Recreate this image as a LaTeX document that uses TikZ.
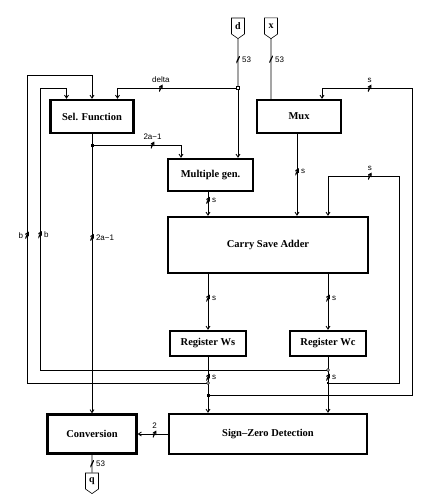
\documentclass[tikz,border=0pt]{standalone}
\usepackage{fontspec}
\setmainfont{Liberation Serif}
\setsansfont{Liberation Sans}
\usetikzlibrary{arrows.meta}
\usetikzlibrary{shapes.symbols}
\tikzset{block/.style={ % Sets the properties for each unit
           draw, line width=2.4pt, inner sep=0pt,
           font=\bfseries\fontsize{10.5}{12}\selectfont},
         port/.style={ % in/out pins
           draw, semithick, shape=signal, signal to=south, signal pointer angle=110,
           minimum width=13pt, minimum height=18pt, inner sep=0pt,
           font=\bfseries\fontsize{10}{12}\selectfont},
         wire/.style={line width=0.8pt},
         arr/.style={-{Straight Barb[length=3pt,width=4pt]}},
         buslbl/.style={font=\sffamily\fontsize{8}{9}\selectfont, inner sep=1.5pt},
         slash/.style={ % bus width mark
           inner sep=0pt, minimum width=3.5pt, minimum height=7pt,
           path picture={\draw[line width=1.2pt] (path picture bounding box.south west)
                          -- (path picture bounding box.north east);}},
         dot/.style={fill, inner sep=0pt, minimum size=3pt},
         hole/.style={draw, fill=white, thin, inner sep=0pt, minimum size=3pt},
         ring/.style={draw, fill=white, thin, circle, inner sep=0pt, minimum size=3pt}}

\begin{document}
\begin{tikzpicture}[x=1pt, y=-1pt]
  \useasboundingbox (0,0) rectangle (443,500);

  % units
  \node [block, minimum width=83pt, minimum height=33pt] (sel) at (92,116.5) {Sel. Function};
  \node [block, minimum width=84pt, minimum height=33pt] (mux) at (299,116.5) {Mux};
  \node [block, minimum width=85pt, minimum height=32pt] (mult) at (210.5,175) {Multiple gen.};
  \node [block, minimum width=200pt, minimum height=56pt] (csa) at (268,245) {Carry Save Adder};
  \node [block, minimum width=76pt, minimum height=25pt] (regws) at (208,343.5) {Register Ws};
  \node [block, minimum width=76pt, minimum height=25pt] (regwc) at (328,343.5) {Register Wc};
  \node [block, minimum width=89pt, minimum height=39pt] (conv) at (92,434) {Conversion};
  \node [block, minimum width=198pt, minimum height=40pt] (szd) at (268,434) {Sign--Zero Detection};

  % pins
  \node [port] (d) at (238,26) {d};
  \node [port] (x) at (271,26) {x};
  \node [port] (q) at (92,481) {q};

  % joints
  \coordinate (jd) at (238,88);
  \coordinate (js) at (92,145);
  \coordinate (wsb) at (208,383);
  \coordinate (wsm) at (208,395);
  \coordinate (wcb) at (328,370);
  \coordinate (wcc) at (328,383);

  % operands
  \draw [wire] (d) -- node [slash, pos=0.42, label={[buslbl]right:53}] {} (jd);
  \draw [wire, arr] (jd) -- (jd |- mult.north);
  \draw [wire, arr] (jd) -| node [slash, pos=0.32, label={[buslbl]above:delta}] {}
    ([xshift=25.5pt]sel.north);
  \draw [wire] (x) -- node [slash, pos=0.34, label={[buslbl]right:53}] {} (x |- mux.north);

  % quotient digit
  \draw [wire, arr] (sel.south) -- node [slash, pos=0.37, label={[buslbl]right:2a−1}] {}
    (sel.south |- conv.north);
  \draw [wire, arr] (js) -| node [slash, pos=0.34, label={[buslbl]above:2a−1}] {}
    ([xshift=-29.5pt]mult.north);

  % into the adder
  \draw [wire, arr] ([xshift=-2.5pt]mult.south) -- node [slash, pos=0.35, label={[buslbl]right:s}] {}
    ([xshift=-2.5pt]mult.south |- csa.north);
  \draw [wire, arr] ([xshift=-2pt]mux.south) -- node [slash, pos=0.46, label={[buslbl]right:s}] {}
    ([xshift=-2pt]mux.south |- csa.north);
  \draw [wire, arr] ([xshift=-60pt]csa.south) -- node [slash, pos=0.43, label={[buslbl]right:s}] {}
    (regws.north);
  \draw [wire, arr] ([xshift=60pt]csa.south) -- node [slash, pos=0.43, label={[buslbl]right:s}] {}
    (regwc.north);

  % registers out
  \draw [wire, arr] (regws.south) -- node [slash, pos=0.36, label={[buslbl]right:s}] {}
    (regws.south |- szd.north);
  \draw [wire, arr] (regwc.south) -- node [slash, pos=0.36, label={[buslbl]right:s}] {}
    (regwc.south |- szd.north);

  % feedback to Sel. Function
  \draw [wire, arr] (wsb) -- (27,383) -- node [slash, pos=0.48, label={[buslbl]left:b}] {}
    (27,75) -| (sel.north);
  \draw [wire, arr] (wcb) -- (40,370) -- node [slash, pos=0.48, label={[buslbl]right:b}] {}
    (40,88) -| ([xshift=-25.5pt]sel.north);

  % feedback to Mux and adder
  \draw [wire, arr] (wsm) -- (412,395) -- (412,88) -- node [slash, pos=0.47, label={[buslbl]above:s}] {}
    (322,88) -- (322,0 |- mux.north);
  \draw [wire, arr] (wcc) -- (399,383) -- (399,176) -- node [slash, pos=0.41, label={[buslbl]above:s}] {}
    (328,176) -- (328,0 |- csa.north);

  % result
  \draw [wire, arr] (szd.west) -- node [slash, pos=0.44, label={[buslbl]above:2}] {} (conv.east);
  \draw [wire] (conv.south) -- node [slash, pos=0.5, label={[buslbl]right:53}] {} (q);

  % junction marks
  \node [hole] at (jd) {};
  \node [dot] at (js) {};
  \node [ring] at (wsb) {};
  \node [dot] at (wsm) {};
  \node [ring] at (wcb) {};
  \node [dot, minimum size=2pt] at (wcc) {};
\end{tikzpicture}
\end{document}
